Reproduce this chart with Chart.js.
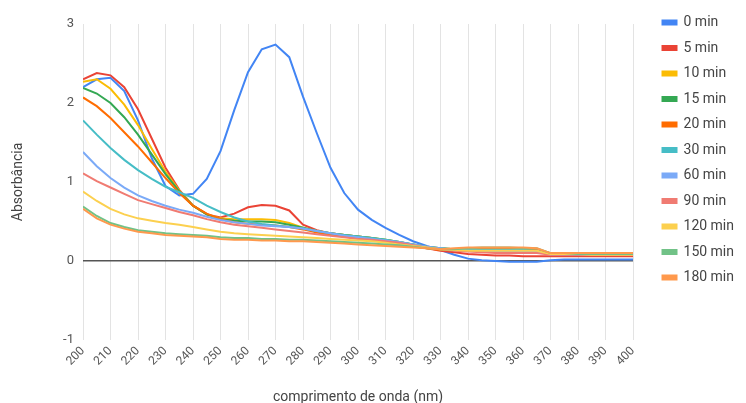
<!DOCTYPE html>
<html>
<head>
<meta charset="utf-8">
<script src="https://cdn.jsdelivr.net/npm/chart.js@4.4.1/dist/chart.umd.min.js"></script>
<style>
  html, body { margin: 0; padding: 0; background: #ffffff; }
  #wrap { width: 746px; height: 403px; }
</style>
</head>
<body>
<div id="wrap"><canvas id="c" width="746" height="403"></canvas></div>
<script>
// Wavelengths (nm), every 5 nm
const wavelengths = [200,205,210,215,220,225,230,235,240,245,250,255,260,265,270,275,280,285,290,295,300,305,310,315,320,325,330,335,340,345,350,355,360,365,370,375,380,385,390,395,400];

const seriesNames = ["0 min","5 min","10 min","15 min","20 min","30 min","60 min","90 min","120 min","150 min","180 min"];

const s0   = [2.20,2.30,2.32,2.15,1.78,1.30,0.95,0.83,0.85,1.04,1.39,1.91,2.39,2.68,2.74,2.58,2.08,1.62,1.18,0.86,0.65,0.52,0.42,0.33,0.25,0.19,0.14,0.08,0.03,0.01,0.00,-0.01,-0.01,-0.01,0.01,0.02,0.02,0.02,0.02,0.02,0.02];
const s5   = [2.30,2.38,2.35,2.20,1.92,1.55,1.18,0.90,0.70,0.59,0.55,0.60,0.68,0.71,0.70,0.64,0.46,0.39,0.35,0.33,0.31,0.29,0.26,0.23,0.19,0.16,0.13,0.11,0.09,0.08,0.07,0.07,0.06,0.06,0.06,0.06,0.06,0.06,0.06,0.06,0.06];
const s10  = [2.27,2.30,2.18,1.98,1.72,1.42,1.13,0.89,0.70,0.59,0.54,0.53,0.53,0.53,0.52,0.48,0.42,0.38,0.35,0.33,0.31,0.29,0.27,0.24,0.21,0.18,0.16,0.15,0.15,0.15,0.14,0.14,0.14,0.14,0.09,0.09,0.08,0.08,0.08,0.08,0.08];
const s15  = [2.19,2.12,2.00,1.82,1.60,1.35,1.10,0.88,0.70,0.59,0.53,0.51,0.50,0.50,0.49,0.46,0.42,0.38,0.35,0.33,0.31,0.29,0.27,0.24,0.21,0.18,0.16,0.15,0.15,0.16,0.16,0.16,0.15,0.15,0.09,0.09,0.09,0.09,0.08,0.08,0.08];
const s20  = [2.07,1.96,1.81,1.63,1.45,1.25,1.05,0.86,0.70,0.60,0.53,0.49,0.47,0.46,0.45,0.43,0.40,0.36,0.33,0.31,0.29,0.27,0.25,0.22,0.19,0.16,0.14,0.14,0.15,0.16,0.16,0.16,0.16,0.15,0.10,0.09,0.09,0.09,0.09,0.09,0.09];
const s30  = [1.78,1.60,1.43,1.28,1.15,1.04,0.94,0.87,0.80,0.70,0.62,0.55,0.50,0.47,0.45,0.43,0.41,0.38,0.35,0.33,0.31,0.29,0.27,0.24,0.21,0.18,0.16,0.15,0.14,0.14,0.14,0.14,0.14,0.13,0.09,0.09,0.08,0.08,0.08,0.08,0.08];
const s60  = [1.38,1.20,1.05,0.93,0.83,0.76,0.70,0.65,0.61,0.56,0.52,0.49,0.47,0.45,0.44,0.43,0.41,0.38,0.35,0.32,0.30,0.28,0.26,0.24,0.21,0.18,0.16,0.14,0.13,0.12,0.12,0.12,0.12,0.12,0.08,0.08,0.08,0.08,0.08,0.08,0.08];
const s90  = [1.11,1.01,0.93,0.85,0.77,0.72,0.67,0.62,0.58,0.53,0.49,0.46,0.44,0.42,0.40,0.38,0.36,0.34,0.32,0.30,0.28,0.27,0.25,0.23,0.20,0.17,0.15,0.13,0.12,0.11,0.10,0.10,0.10,0.10,0.08,0.08,0.08,0.08,0.08,0.08,0.08];
const s120 = [0.88,0.76,0.66,0.59,0.54,0.51,0.48,0.46,0.43,0.40,0.37,0.35,0.34,0.33,0.32,0.31,0.30,0.29,0.28,0.27,0.26,0.25,0.23,0.21,0.19,0.17,0.15,0.14,0.13,0.13,0.13,0.13,0.13,0.13,0.09,0.09,0.09,0.08,0.08,0.08,0.08];
const s150 = [0.69,0.57,0.48,0.43,0.39,0.37,0.35,0.34,0.33,0.32,0.30,0.29,0.29,0.28,0.28,0.27,0.27,0.26,0.25,0.24,0.23,0.22,0.21,0.20,0.18,0.16,0.15,0.15,0.16,0.17,0.17,0.17,0.16,0.16,0.10,0.10,0.09,0.09,0.09,0.09,0.09];
const s180 = [0.66,0.54,0.46,0.41,0.37,0.35,0.33,0.32,0.31,0.30,0.28,0.27,0.27,0.26,0.26,0.25,0.25,0.24,0.23,0.22,0.21,0.20,0.19,0.18,0.17,0.16,0.15,0.16,0.17,0.17,0.17,0.17,0.17,0.16,0.10,0.10,0.10,0.10,0.10,0.10,0.10];

const seriesValues = [s0,s5,s10,s15,s20,s30,s60,s90,s120,s150,s180];
const seriesColors = ["#4285F4","#EA4335","#FBBC04","#34A853","#FF6D01","#46BDC6","#7BAAF7","#F07B72","#FCD04F","#71C287","#FF994D"];

const yTicks = [-1,0,1,2,3];
const xTickStep = 10;

const FONT = "Roboto, 'Liberation Sans', Arial, sans-serif";

const datasets = seriesNames.map((name, i) => ({
  label: name,
  data: wavelengths.map((x, j) => ({x: x, y: seriesValues[i][j]})),
  xAxisID: 'x',
  yAxisID: 'y',
  borderColor: seriesColors[i],
  backgroundColor: seriesColors[i],
  borderWidth: 2,
  pointRadius: 0,
  pointHoverRadius: 0,
  tension: 0,
  fill: false,
  order: -i
}));

new Chart(document.getElementById('c'), {
  type: 'line',
  data: { datasets },
  options: {
    responsive: false,
    animation: false,
    devicePixelRatio: 1,
    layout: { padding: { top: 4, right: 2, left: 0, bottom: 0 } },
    plugins: {
      tooltip: { enabled: false },
      legend: {
        position: 'right',
        align: 'start',
        labels: {
          sort: (a, b) => a.datasetIndex - b.datasetIndex,
          boxWidth: 14,
          boxHeight: 4,
          padding: 11.5,
          color: '#444',
          font: { family: FONT, size: 14 }
        }
      }
    },
    scales: {
      x: {
        type: 'linear',
        position: 'bottom',
        min: wavelengths[0],
        max: wavelengths[wavelengths.length - 1],
        afterFit: (s) => { s.height = 63; },
        border: { display: false },
        grid: { color: '#e3e3e3', lineWidth: 1, drawTicks: false },
        ticks: {
          stepSize: xTickStep,
          autoSkip: false,
          maxRotation: 45,
          minRotation: 45,
          padding: 4,
          color: '#555',
          font: { family: FONT, size: 12 }
        },
        title: {
          display: true,
          text: 'comprimento de onda (nm)',
          color: '#444',
          font: { family: FONT, size: 14 },
          padding: { top: 0, bottom: -3 }
        }
      },
      y: {
        type: 'linear',
        position: 'left',
        min: yTicks[0],
        max: yTicks[yTicks.length - 1],
        afterFit: (s) => { s.width = 83; },
        afterBuildTicks: (s) => { s.ticks = yTicks.map(v => ({value: v})); },
        border: { display: false },
        grid: {
          drawTicks: false,
          color: (ctx) => (ctx.tick && ctx.tick.value === 0) ? '#555' : 'rgba(0,0,0,0)',
          lineWidth: (ctx) => (ctx.tick && ctx.tick.value === 0) ? 1.5 : 0
        },
        ticks: {
          padding: 9,
          color: '#555',
          font: { family: FONT, size: 13 }
        },
        title: {
          display: true,
          text: 'Absorbância',
          color: '#444',
          font: { family: FONT, size: 14 },
          padding: { top: 10, bottom: 4 }
        }
      },
      xTop: {
        type: 'linear',
        position: 'top',
        display: true,
        min: 0, max: 1,
        afterFit: (s) => { s.height = 20; },
        border: { display: false },
        grid: { display: false },
        ticks: { display: false }
      },
      yRight: {
        type: 'linear',
        position: 'right',
        display: true,
        min: 0, max: 1,
        afterFit: (s) => { s.width = 18; },
        border: { display: false },
        grid: { display: false },
        ticks: { display: false }
      }
    }
  }
});
</script>
</body>
</html>
